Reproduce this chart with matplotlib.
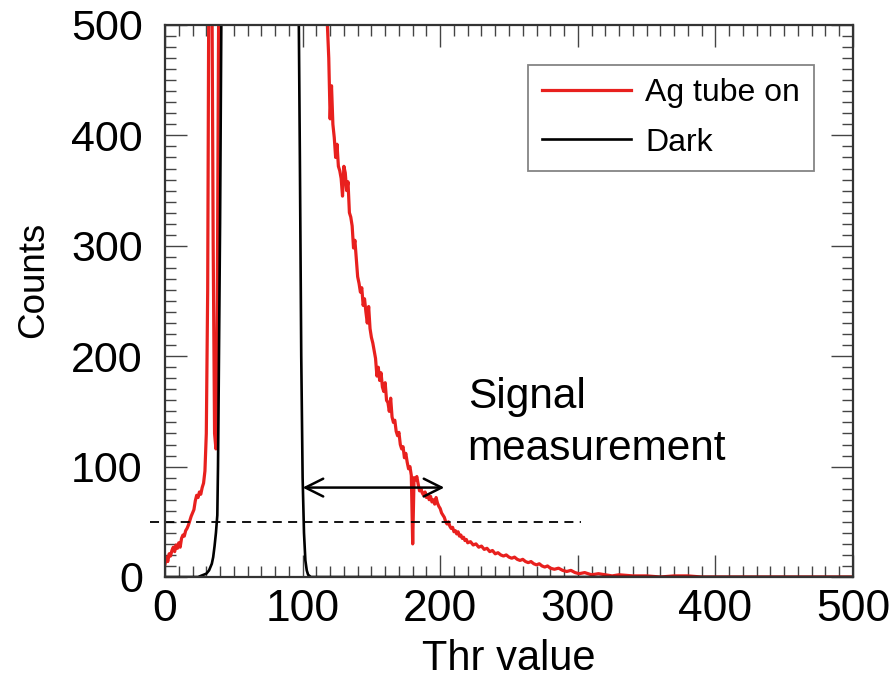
import matplotlib
matplotlib.use("Agg")
import matplotlib.pyplot as plt
from matplotlib.ticker import MultipleLocator

plt.rcParams['font.family'] = ['Liberation Sans', 'DejaVu Sans']

# Ag tube on (threshold scan)
thr_red = [0, 1, 2, 3, 4, 5, 6, 7, 8, 9, 10, 11, 12, 13, 14, 15, 16, 17, 18, 19,
           20, 21, 22, 23, 24, 25, 26, 27, 28, 29, 30, 31, 32, 33, 34, 35, 36, 37, 38, 39,
           40, 50, 70, 90, 105, 112, 116, 118, 119, 120, 121, 122, 123, 124, 125, 126, 127,
           128, 129, 130, 131, 132, 133, 134, 135, 136, 137, 138, 139, 140, 141, 142, 143,
           144, 145, 146, 147, 148, 149, 150, 151, 152, 153, 154, 155, 156, 157, 158, 159,
           160, 161, 162, 163, 164, 165, 166, 167, 168, 169, 170, 171, 172, 173, 174, 175,
           176, 177, 178, 179, 180, 181, 182, 183, 184, 185, 186, 187, 188, 189, 190, 191,
           192, 193, 194, 195, 196, 197, 198, 199, 200, 201, 202, 203, 204, 205, 206, 207,
           208, 209, 210, 211, 212, 213, 214, 215, 216, 217, 218, 219, 220, 222, 224, 226,
           228, 230, 232, 234, 236, 238, 240, 242, 244, 246, 248, 250, 252, 254, 256, 258,
           260, 262, 264, 266, 268, 270, 272, 274, 276, 278, 280, 283, 286, 289, 292, 295,
           298, 301, 305, 310, 315, 320, 325, 330, 340, 350, 360, 370, 380, 390, 400, 450, 500]
counts_red = [12, 18, 14, 21, 19, 24, 27, 23, 29, 26, 31, 27, 35, 38, 37, 42, 44, 47, 51, 55,
              58, 61, 69, 74, 72, 77, 75, 81, 85, 96, 130, 260, 600, 800, 560, 300, 130, 116, 250, 520,
              800, 1200, 1500, 1400, 1100, 800, 560, 500, 470, 415, 445, 410, 398, 380, 392, 372, 368,
              361, 345, 372, 366, 350, 358, 330, 326, 318, 298, 305, 288, 272, 266, 258, 262,
              246, 252, 240, 230, 245, 225, 217, 212, 205, 198, 182, 190, 178, 185, 172, 168,
              176, 160, 158, 150, 162, 145, 140, 142, 132, 128, 131, 120, 116, 118, 108, 112,
              104, 98, 100, 92, 30, 90, 88, 91, 84, 78, 80, 76, 74, 77, 72, 74,
              70, 73, 68, 70, 66, 72, 67, 64, 62, 58, 56, 54, 50, 48, 50, 46,
              44, 45, 41, 42, 39, 41, 37, 38, 35, 36, 33, 34, 31, 32, 29, 30,
              27, 28, 25, 26, 23, 24, 21, 22, 20, 19, 20, 18, 17, 18, 16, 15,
              16, 14, 13, 14, 12, 11, 12, 10, 9, 10, 8, 7, 8, 6, 5, 6,
              4, 3, 4, 2, 3, 2, 1, 2, 1, 1, 0, 1, 1, 0, 0, 0, 0]

# Dark
thr_dark = [0, 24, 26, 28, 30, 32, 34, 35, 36, 37, 38, 38.5, 39, 40, 41, 42,
            95, 97, 98, 99, 100, 101, 102, 103, 104, 106, 500]
counts_dark = [0, 0, 1, 2, 3, 6, 12, 18, 28, 40, 56, 100, 170, 320, 520, 900,
               900, 540, 380, 200, 90, 40, 15, 6, 2, 0, 0]

cut_level = 50
cut_range = [-11, 302]
window = [100, 203]
window_y = 81

fig = plt.figure(figsize=(8.94, 6.83), dpi=100)
ax = fig.add_axes([0.1846, 0.1552, 0.7695, 0.8082])

ax.plot(thr_red, counts_red, color='#e8201e', lw=2.3, label='Ag tube on')
ax.plot(thr_dark, counts_dark, color='black', lw=1.9, label='Dark')

# threshold cut line and signal window
ax.plot(cut_range, [cut_level, cut_level], color='black', lw=1.3,
        ls=(0, (5, 3.5)), clip_on=False)
ax.annotate('', xy=(window[1], window_y), xytext=(window[0], window_y),
            arrowprops=dict(arrowstyle='<->', color='black', lw=1.8,
                            mutation_scale=32, shrinkA=0, shrinkB=0))
ax.text(220, 181, 'Signal\nmeasurement', fontsize=30.5, va='top', ha='left',
        linespacing=1.38)

ax.set_xlim(0, 500)
ax.set_ylim(0, 500)
ax.xaxis.set_major_locator(MultipleLocator(100))
ax.yaxis.set_major_locator(MultipleLocator(100))
ax.xaxis.set_minor_locator(MultipleLocator(10))
ax.yaxis.set_minor_locator(MultipleLocator(10))
ax.tick_params(which='both', direction='in', top=True, right=True,
               color='#444444', width=1.0)
ax.tick_params(which='major', length=16)
ax.tick_params(which='minor', length=8)
ax.tick_params(axis='x', which='major', labelsize=32, pad=9)
ax.tick_params(axis='y', which='major', labelsize=31, pad=16)
for s in ax.spines.values():
    s.set_color('#333333')
    s.set_linewidth(1.6)

ax.set_xlabel('Thr value', fontsize=30, labelpad=6)
ax.set_ylabel('Counts', fontsize=26.5)
ax.yaxis.set_label_coords(-0.165, 0.538)

leg = ax.legend(loc='upper right', bbox_to_anchor=(0.943, 0.9275),
                borderaxespad=0, fontsize=23, handlelength=2.8,
                handletextpad=0.45, labelspacing=0.6, fancybox=False,
                borderpad=0.42, frameon=True)
leg.get_frame().set_edgecolor('#666666')
leg.get_frame().set_linewidth(1.3)

fig.savefig('out.png', dpi=100)
